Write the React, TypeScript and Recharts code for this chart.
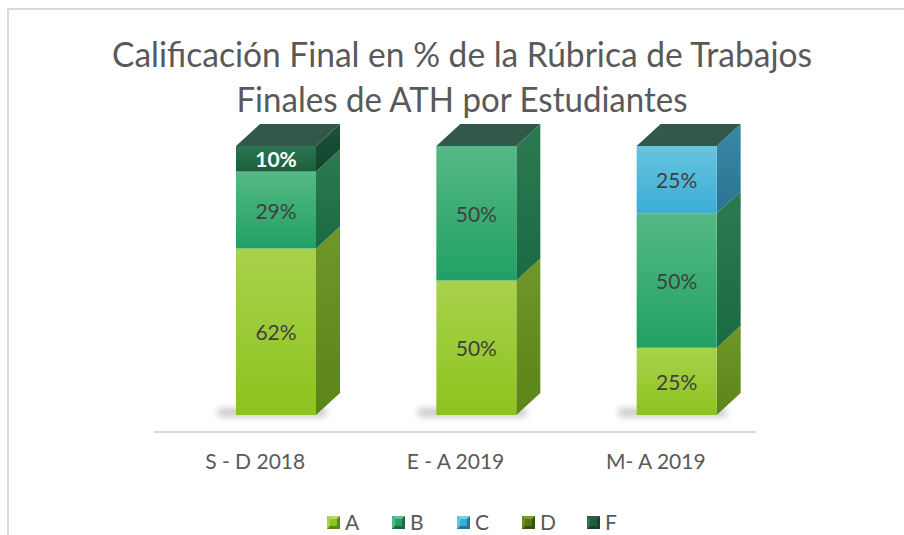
import React from "react";
import { BarChart, Bar, XAxis, YAxis, LabelList, Legend } from "recharts";

const categories = ["S - D 2018", "E - A 2019", "M- A 2019"];
const seriesA = [61.9, 50, 25];
const seriesB = [28.6, 50, 50];
const seriesC = [0, 0, 25];
const seriesD = [0, 0, 0];
const seriesF = [9.5, 0, 0];
const seriesNames = ["A", "B", "C", "D", "F"];

const data = categories.map((name, i) => ({
  name,
  A: seriesA[i],
  B: seriesB[i],
  C: seriesC[i],
  D: seriesD[i],
  F: seriesF[i],
}));

// 3D look
const DX = 24;
const DY = 22;

const palette: Record<string, { top: string; bottom: string; side1: string; side2: string; lid: string }> = {
  A: { top: "#a8d24c", bottom: "#8cc31e", side1: "#6f9628", side2: "#5a8519", lid: "#b5da63" },
  B: { top: "#55b985", bottom: "#21a064", side1: "#2b7a52", side2: "#1a6a43", lid: "#60c090" },
  C: { top: "#68c3df", bottom: "#3badd4", side1: "#3888a8", side2: "#2a7391", lid: "#7ccde5" },
  D: { top: "#6a8c24", bottom: "#557519", side1: "#435e14", side2: "#3a5210", lid: "#7a9c30" },
  F: { top: "#2a7550", bottom: "#1c5f3d", side1: "#1c5238", side2: "#15432d", lid: "#32584a" },
};

const FONT = "Lato, 'Open Sans', sans-serif";

const Bar3D = (props: any) => {
  const { x, y, width, height, dataKey } = props;
  const c = palette[dataKey];
  if (x == null || y == null) return null;
  const h = Math.max(0, height || 0);
  return (
    <g>
      {dataKey === "A" && (
        <rect
          x={x - 18}
          y={y + h - 7}
          width={width + DX + 4}
          height={9}
          fill="#909090"
          opacity={0.45}
          filter="url(#floorBlur)"
        />
      )}
      {h > 0 && (
        <>
          <polygon
            points={`${x + width},${y} ${x + width + DX},${y - DY} ${x + width + DX},${y + h - DY} ${x + width},${y + h}`}
            fill={`url(#side-${dataKey})`}
          />
          <rect x={x} y={y} width={width} height={h} fill={`url(#front-${dataKey})`} />
        </>
      )}
      {dataKey === "F" && (
        <polygon
          points={`${x},${y} ${x + DX},${y - DY} ${x + width + DX},${y - DY} ${x + width},${y}`}
          fill={c.lid}
        />
      )}
    </g>
  );
};

const makeLabel = (key: string) => (props: any) => {
  const { x, y, width, height, value } = props;
  if (!value) return null;
  const isF = key === "F";
  return (
    <text
      x={x + width / 2}
      y={y + height / 2}
      textAnchor="middle"
      dominantBaseline="central"
      fontFamily={FONT}
      fontSize={21}
      fontWeight={isF ? 700 : 400}
      fill={isF ? "#ffffff" : "#404040"}
    >
      {Math.round(value)}%
    </text>
  );
};

const Tick = (props: any) => {
  const { x, y, payload } = props;
  return (
    <text x={x - 21} y={y + 46} textAnchor="middle" fontFamily={FONT} fontSize={21} fill="#595959">
      {payload.value}
    </text>
  );
};

const LegendIcon = ({ k }: { k: string }) => {
  const c = palette[k];
  return (
    <svg width={13} height={13} style={{ display: "block" }}>
      <rect x={0} y={0} width={13} height={13} fill={c.side2} />
      <polygon points="0,0 13,0 10,3 3,3" fill={c.lid} />
      <polygon points="0,0 3,3 3,10 0,13" fill={c.top} />
      <rect x={3} y={3} width={7} height={7} fill={c.bottom} />
    </svg>
  );
};

const LegendContent = () => (
  <div style={{ display: "flex", paddingLeft: 327, fontFamily: FONT, fontSize: 21, color: "#595959" }}>
    {seriesNames.map((k) => (
      <div key={k} style={{ width: 65, display: "flex", alignItems: "center" }}>
        <LegendIcon k={k} />
        <span style={{ marginLeft: 5, lineHeight: "22px" }}>{k}</span>
      </div>
    ))}
  </div>
);

export default function App() {
  return (
    <div style={{ position: "absolute", left: 0, top: 0, width: 904, height: 535, overflow: "hidden", background: "#fff" }}>
      <div
        style={{
          position: "absolute",
          left: 7,
          top: 8,
          width: 1000,
          height: 700,
          border: "2px solid #d9d9d9",
        }}
      />
      <svg width={904} height={535} style={{ position: "absolute", left: 0, top: 0 }}>
        <text x={462} y={67} textAnchor="middle" fontFamily={FONT} fontSize={35} fill="#595959" textLength={700} lengthAdjust="spacingAndGlyphs">
          Calificación Final en % de la Rúbrica de Trabajos
        </text>
        <text x={462} y={112} textAnchor="middle" fontFamily={FONT} fontSize={35} fill="#595959" textLength={451} lengthAdjust="spacingAndGlyphs">
          Finales de ATH por Estudiantes
        </text>
        <line x1={154} x2={756} y1={432} y2={432} stroke="#d9d9d9" strokeWidth={2} />
      </svg>
      <div style={{ position: "absolute", left: 0, top: 0 }}>
        <BarChart width={904} height={535} data={data} margin={{ top: 146, right: 127, bottom: 90, left: 176 }}>
          <defs>
            {seriesNames.map((k) => (
              <React.Fragment key={k}>
                <linearGradient id={`front-${k}`} x1="0" y1="0" x2="0" y2="1">
                  <stop offset="0%" stopColor={palette[k].top} />
                  <stop offset="100%" stopColor={palette[k].bottom} />
                </linearGradient>
                <linearGradient id={`side-${k}`} x1="0" y1="0" x2="0" y2="1">
                  <stop offset="0%" stopColor={palette[k].side1} />
                  <stop offset="100%" stopColor={palette[k].side2} />
                </linearGradient>
              </React.Fragment>
            ))}
            <filter id="floorBlur" x="-20%" y="-100%" width="140%" height="300%">
              <feGaussianBlur stdDeviation="3" />
            </filter>
          </defs>
          <XAxis dataKey="name" axisLine={false} tickLine={false} tick={<Tick />} interval={0} height={30} />
          <YAxis hide domain={[0, 100]} />
          <Legend
            layout="horizontal"
            verticalAlign="middle"
            align="center"
            wrapperStyle={{ left: 0, top: 511, width: 904 }}
            content={<LegendContent />}
          />
          {seriesNames.map((k) => (
            <Bar key={k} dataKey={k} stackId="s" barSize={80} shape={<Bar3D />} isAnimationActive={false}>
              <LabelList dataKey={k} content={makeLabel(k)} />
            </Bar>
          ))}
        </BarChart>
      </div>
    </div>
  );
}
